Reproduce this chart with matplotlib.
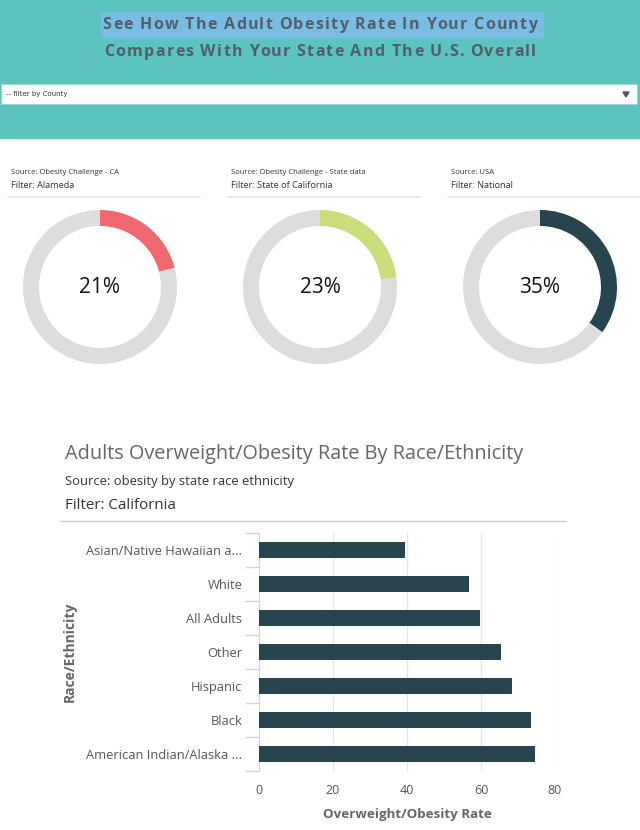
import numpy as np
import matplotlib.pyplot as plt
from matplotlib.patches import Rectangle, Polygon
from matplotlib.lines import Line2D

W, H = 640, 830

# donut data
donut_sources = ["Source: Obesity Challenge - CA", "Source: Obesity Challenge - State data", "Source: USA"]
donut_filters = ["Filter: Alameda", "Filter: State of California", "Filter: National"]
donut_values = [21, 23, 35]
donut_colors = ["#f0686f", "#c9dd7a", "#26454f"]

# bar data
races = ["Asian/Native Hawaiian a...", "White", "All Adults", "Other",
         "Hispanic", "Black", "American Indian/Alaska ..."]
rates = [39.5, 56.7, 59.7, 65.4, 68.4, 73.5, 74.6]
xticks = [0, 20, 40, 60, 80]

title1 = "See How The Adult Obesity Rate In Your County"
title2 = "Compares With Your State And The U.S. Overall"

plt.rcParams['font.family'] = ['Open Sans', 'DejaVu Sans']

fig = plt.figure(figsize=(W / 100, H / 100), dpi=100)
renderer = fig.canvas.get_renderer()


def fx(x):
    return x / W


def fy(y):
    return 1 - y / H


def px_axes(x0, y0, w, h):
    return fig.add_axes([fx(x0), fy(y0 + h), w / W, h / H])


def text_width(s, **kw):
    t = fig.text(0, 0, s, **kw)
    w = t.get_window_extent(renderer).width
    t.remove()
    return w


# texto con espaciado entre letras (css letter-spacing)
def spaced_text(xc, yc, s, spacing, **kw):
    wI = text_width("I", **kw)
    offs = [text_width(s[:i] + "I", **kw) - wI for i in range(len(s))]
    total = text_width(s, **kw) + spacing * (len(s) - 1)
    x0 = xc - total / 2
    for i, c in enumerate(s):
        if c != " ":
            fig.text(fx(x0 + offs[i] + spacing * i), fy(yc), c, ha="left",
                     va="center", **kw)


###############################################################################
# header band
###############################################################################
fig.patches.append(Rectangle((0, fy(138)), 1, 138 / H, transform=fig.transFigure,
                             color="#5bc4be", zorder=0))
fig.patches.append(Rectangle((fx(101), fy(37)), 442 / W, 25 / H, transform=fig.transFigure,
                             color="#7abde3", zorder=1))
tkw = dict(fontsize=11.5, fontweight="bold", color="#535e6c", zorder=2)
spaced_text(320, 25, title1, 1.3, **tkw)
spaced_text(320, 52, title2, 1.3, **tkw)

# filter box
fig.patches.append(Rectangle((fx(1), fy(104)), 636 / W, 20 / H, transform=fig.transFigure,
                             facecolor="white", edgecolor="#9fd6d2", lw=0.8, zorder=1))
fig.text(fx(6), fy(94), "-- filter by County", ha="left", va="center", fontsize=5,
         family="DejaVu Sans", color="#333333", zorder=2)
fig.patches.append(Polygon([(fx(623), fy(92)), (fx(629), fy(92)), (fx(626), fy(97))],
                           closed=True, transform=fig.transFigure, color="#555555", zorder=2))

###############################################################################
# donuts
###############################################################################
centers = [100, 320, 540]
for i in range(3):
    cx = centers[i]
    left = cx - 92
    fig.text(fx(left + 3), fy(172), donut_sources[i], ha="left", va="center",
             fontsize=5.5, color="#333333")
    fig.text(fx(left + 3), fy(186), donut_filters[i], ha="left", va="center",
             fontsize=6.6, color="#333333")
    fig.lines.append(Line2D([fx(left), fx(left + 192)], [fy(197), fy(197)],
                            transform=fig.transFigure, color="#e6e6e6", lw=1.2))

    ax = px_axes(cx - 80, 287 - 80, 160, 160)
    v = donut_values[i]
    ax.pie([v, 100 - v], colors=[donut_colors[i], "#dddddd"], startangle=90,
           counterclock=False, radius=77 / 80,
           wedgeprops=dict(width=16 / 80, linewidth=0))
    ax.set_xlim(-1, 1)
    ax.set_ylim(-1, 1)
    ax.set_aspect("equal")
    ax.text(0, 0, f"{v}%", ha="center", va="center", fontsize=15, color="#111111")

###############################################################################
# bar chart
###############################################################################
fig.text(fx(65), fy(454), "Adults Overweight/Obesity Rate By Race/Ethnicity", ha="left",
         va="center", fontsize=14.3, color="#666666")
fig.text(fx(65), fy(481), "Source: obesity by state race ethnicity", ha="left",
         va="center", fontsize=9.4, color="#333333")
fig.text(fx(65), fy(505), "Filter: California", ha="left", va="center",
         fontsize=10.9, color="#333333")
fig.lines.append(Line2D([fx(60), fx(566)], [fy(521), fy(521)],
                        transform=fig.transFigure, color="#cccccc", lw=1))

ax = px_axes(259, 533, 296, 238)
y = np.arange(len(races))
ax.barh(y, rates, height=0.45, color="#26454f", zorder=3)
ax.set_ylim(len(races) - 0.5, -0.5)
ax.set_xlim(0, 80)
ax.set_yticks(y)
ax.set_yticklabels(races)
ax.set_yticks(np.arange(len(races) + 1) - 0.5, minor=True)
ax.tick_params(axis="y", which="major", length=0, pad=12, labelsize=9.3, labelcolor="#555555")
ax.tick_params(axis="y", which="minor", length=10, color="#ccd6eb", width=1)
ax.set_xticks(xticks)
ax.tick_params(axis="x", length=0, pad=9, labelsize=9, labelcolor="#555555")
ax.grid(axis="x", color="#e6e6e6", lw=1, zorder=0)
for s in ["top", "right", "bottom"]:
    ax.spines[s].set_visible(False)
ax.spines["left"].set_color("#ccd6eb")
ax.set_xlabel("Overweight/Obesity Rate", fontsize=9.6, fontweight="bold", color="#666666",
              labelpad=8)
ax.set_ylabel("Race/Ethnicity", fontsize=10, fontweight="bold", color="#666666")
ax.yaxis.set_label_coords((77 - 259) / 296, 0.5)

plt.savefig("out.png", dpi=100)
